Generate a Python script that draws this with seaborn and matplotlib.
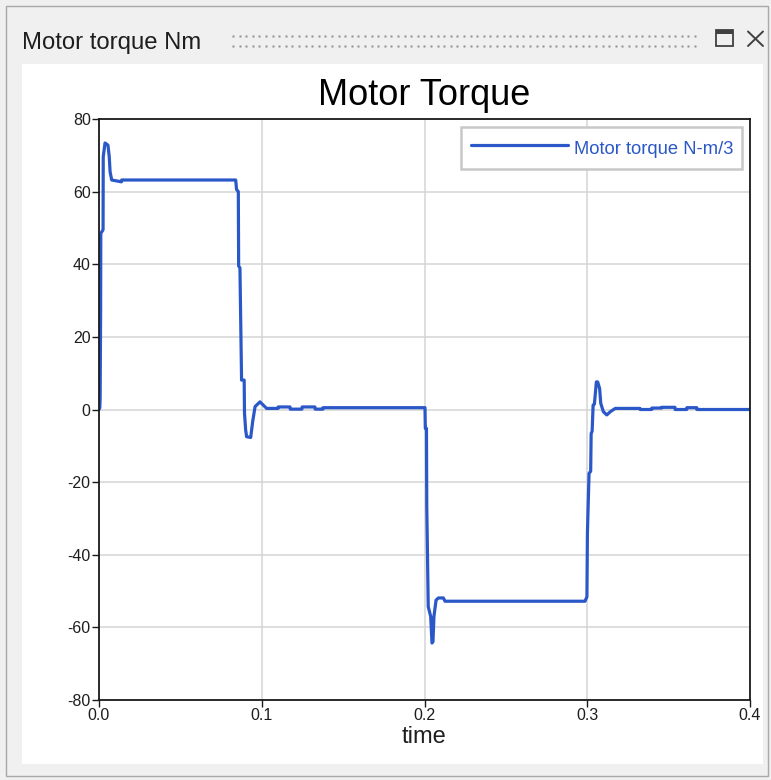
import numpy as np
import pandas as pd
import matplotlib
matplotlib.use("Agg")
import matplotlib.pyplot as plt
from matplotlib.patches import Rectangle
from matplotlib.lines import Line2D
import seaborn as sns

# Simulated motor torque trace (time in s, torque in N-m/3)
TIME = [0.0000, 0.0005, 0.0007, 0.0010, 0.0011, 0.0025, 0.0026, 0.0037, 0.0055,
        0.0063, 0.0068, 0.0078, 0.0138, 0.0139, 0.0840, 0.0845, 0.0856, 0.0858,
        0.0866, 0.0876, 0.0892, 0.0894, 0.0901, 0.0907, 0.0932, 0.0944, 0.0959,
        0.0989, 0.1030, 0.1100, 0.1101, 0.1174, 0.1175, 0.1247, 0.1248, 0.1327,
        0.1328, 0.1376, 0.1377, 0.2003, 0.2005, 0.2012, 0.2014, 0.2023, 0.2038,
        0.2046, 0.2052, 0.2058, 0.2071, 0.2085, 0.2116, 0.2126, 0.2986, 0.2998,
        0.3001, 0.3011, 0.3021, 0.3024, 0.3030, 0.3036, 0.3044, 0.3056, 0.3064,
        0.3076, 0.3083, 0.3099, 0.3120, 0.3142, 0.3172, 0.3191, 0.3324, 0.3325,
        0.3396, 0.3397, 0.3457, 0.3458, 0.3539, 0.3540, 0.3611, 0.3612, 0.3673,
        0.3674, 0.4000]
TORQUE = [0.0, 0.5, 3.0, 27.0, 48.5, 49.5, 69.6, 73.4, 72.8,
          69.6, 65.5, 63.2, 62.7, 63.2, 63.2, 60.6, 60.0, 39.5,
          39.0, 8.1, 8.1, -1.0, -5.6, -7.5, -7.7, -3.4, 0.8,
          2.1, 0.3, 0.3, 0.7, 0.7, 0.1, 0.1, 0.7, 0.7,
          0.1, 0.1, 0.5, 0.5, -5.2, -5.2, -26.8, -54.3, -57.0,
          -64.3, -64.0, -57.0, -52.5, -51.9, -51.9, -52.8, -52.8, -51.6,
          -34.1, -17.6, -17.0, -6.6, -6.0, 1.2, 1.5, 7.6, 7.6,
          5.8, 1.7, -0.6, -1.5, -0.6, 0.3, 0.3, 0.3, 0.0,
          0.0, 0.4, 0.4, 0.6, 0.6, 0.0, 0.0, 0.5, 0.5,
          0.0, 0.0]

X_TICKS = [0.0, 0.1, 0.2, 0.3, 0.4]
Y_TICKS = [-80, -60, -40, -20, 0, 20, 40, 60, 80]
SERIES_LABEL = "Motor torque N-m/3"

W, H = 771, 780
LINE_BLUE = "#2b58c8"

sns.set_theme(style="white")
plt.rcParams["font.family"] = ["Liberation Sans", "DejaVu Sans"]

fig = plt.figure(figsize=(W / 100, H / 100), dpi=100, facecolor="#f0f0f0")


def fx(px):
    return px / W


def fy(py):
    return 1 - py / H


# window frame, white content area (kept beneath the axes)
fig.patches.append(Rectangle((fx(6), fy(776)), fx(762), 770 / H, transform=fig.transFigure,
                             fill=False, edgecolor="#a8a8a8", linewidth=1.0, zorder=-2))
fig.patches.append(Rectangle((fx(22), fy(764)), fx(741), 700 / H, transform=fig.transFigure,
                             facecolor="white", edgecolor="none", zorder=-2))

# panel caption
fig.text(fx(22), fy(49.5), "Motor torque Nm", fontsize=17.2, color="#1e1e1e", va="baseline", ha="left")

# drag-handle dots
dot_x = np.arange(233, 701, 6.6)
for row_y in (35.5, 45.5):
    fig.add_artist(Line2D(fx(dot_x), np.full(dot_x.shape, fy(row_y)), linestyle="none",
                          marker="s", markersize=2.1, markerfacecolor="#909090",
                          markeredgecolor="none", transform=fig.transFigure))

# maximize icon
fig.patches.append(Rectangle((fx(716), fy(45.5)), fx(17), 15.5 / H, transform=fig.transFigure,
                             fill=False, edgecolor="#404040", linewidth=1.3))
fig.patches.append(Rectangle((fx(716), fy(33.5)), fx(17), 3.5 / H, transform=fig.transFigure,
                             facecolor="#404040", edgecolor="none"))
# close icon
fig.add_artist(Line2D([fx(748), fx(763)], [fy(31.5), fy(46)], color="#404040", linewidth=1.4,
                      transform=fig.transFigure))
fig.add_artist(Line2D([fx(748), fx(763)], [fy(46), fy(31.5)], color="#404040", linewidth=1.4,
                      transform=fig.transFigure))

# plot area
ax = fig.add_axes([fx(99), fy(700), fx(651), 581 / H])
ax.set_zorder(1)
ax.set_facecolor("white")

df = pd.DataFrame({"time": TIME, "torque": TORQUE})
sns.lineplot(data=df, x="time", y="torque", ax=ax, color=LINE_BLUE, linewidth=2.3,
             estimator=None, sort=False, label=SERIES_LABEL)

ax.set_xlim(X_TICKS[0], X_TICKS[-1])
ax.set_ylim(Y_TICKS[0], Y_TICKS[-1])
ax.set_xticks(X_TICKS)
ax.set_yticks(Y_TICKS)
ax.set_xticklabels([f"{v:.1f}" for v in X_TICKS])
ax.set_yticklabels([str(v) for v in Y_TICKS])
ax.grid(True, color="#d4d4d4", linewidth=1.1)
ax.set_axisbelow(True)

for sp in ax.spines.values():
    sp.set_visible(True)
    sp.set_color("#1a1a1a")
    sp.set_linewidth(1.3)

ax.tick_params(axis="both", which="major", direction="out", length=5, width=1.0,
               color="#1a1a1a", labelsize=11.5, labelcolor="#1e1e1e", pad=1,
               left=True, bottom=True)
ax.set_xlabel("time", fontsize=17, color="#1e1e1e", labelpad=2)
ax.set_ylabel("")
ax.set_title("Motor Torque", fontsize=26, color="black", pad=10)

leg = ax.legend(loc="upper right", fontsize=13.2, frameon=True, fancybox=False,
                handlelength=5.3, handleheight=1.65, handletextpad=0.33, borderpad=0.5,
                borderaxespad=0.42, labelcolor=LINE_BLUE)
leg.get_frame().set_edgecolor("#c8c8c8")
leg.get_frame().set_linewidth(1.8)
leg.get_frame().set_alpha(1)

fig.savefig("out.png", dpi=100, facecolor=fig.get_facecolor())
